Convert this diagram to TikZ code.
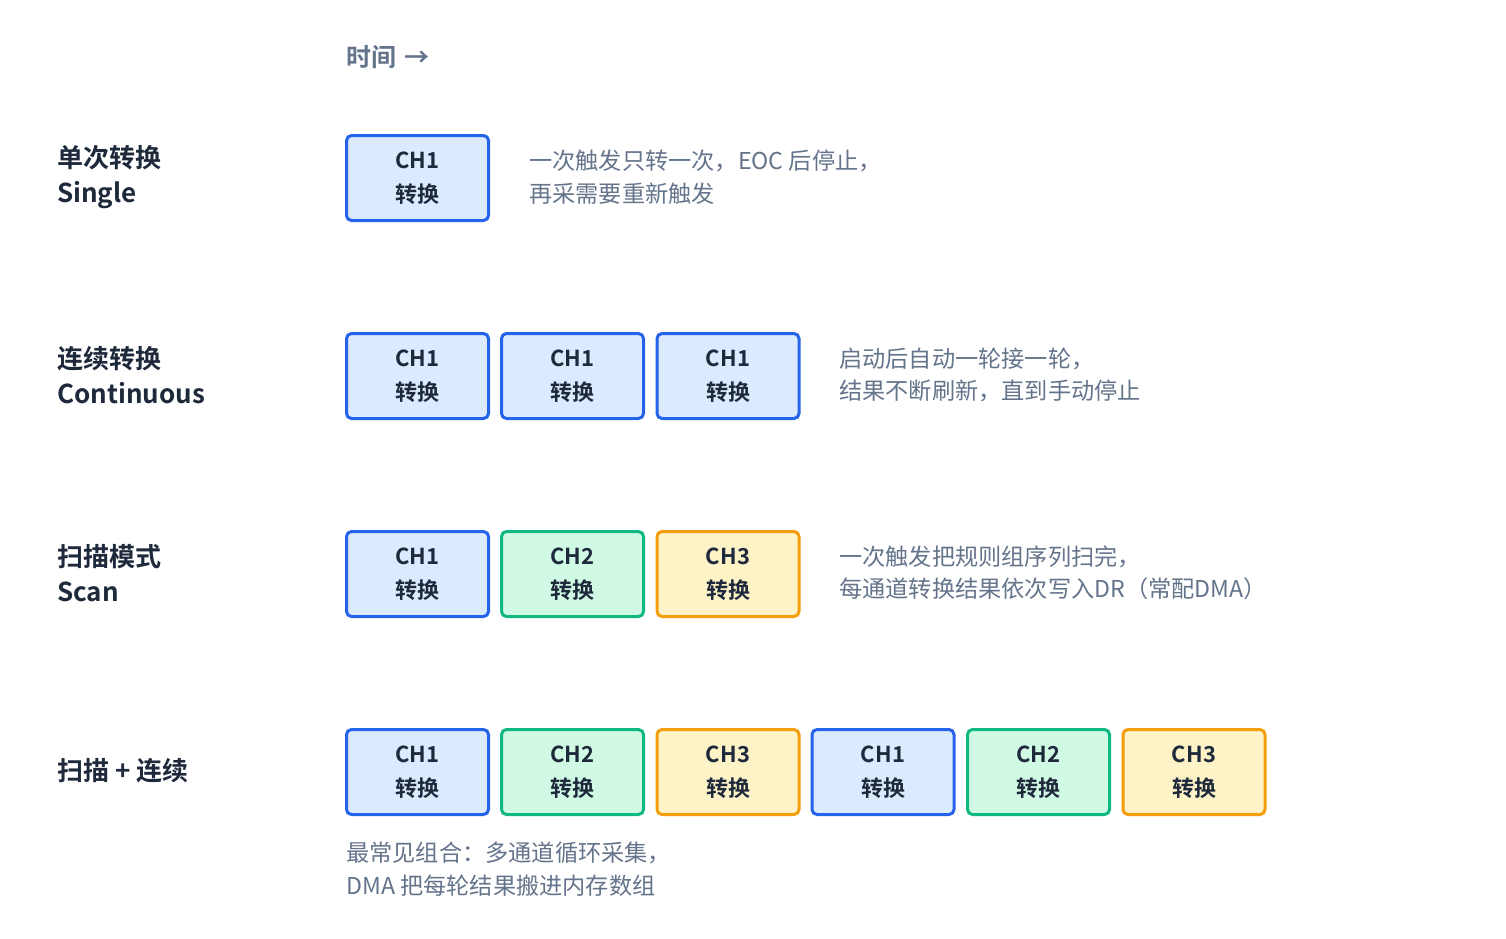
\documentclass[tikz,border=0pt]{standalone}
\usepackage{fontspec}
\setmainfont{Noto Sans CJK SC}[BoldFont={Noto Sans CJK SC Bold}]
\usetikzlibrary{positioning}
\definecolor{ink}{HTML}{1E293B}
\definecolor{muted}{HTML}{64748B}
\definecolor{bluel}{HTML}{2563EB}
\definecolor{bluef}{HTML}{DBEAFE}
\definecolor{greenl}{HTML}{10B981}
\definecolor{greenf}{HTML}{D1FAE5}
\definecolor{orangel}{HTML}{F59E0B}
\definecolor{orangef}{HTML}{FEF3C7}
\tikzset{
  chbox/.style={draw, line width=3pt, rounded corners=5pt, minimum width=142pt, minimum height=85pt,
    align=center, text=ink, font=\fontsize{22}{34}\selectfont\bfseries, inner sep=0pt},
  bbox/.style={chbox, draw=bluel, fill=bluef},
  gbox/.style={chbox, draw=greenl, fill=greenf},
  obox/.style={chbox, draw=orangel, fill=orangef},
  rowlabel/.style={anchor=west, align=left, text=ink, font=\fontsize{26}{35}\selectfont\bfseries, inner sep=0pt},
  desc/.style={anchor=west, align=left, text=muted, font=\fontsize{23.2}{32.5}\selectfont, inner sep=0pt},
}
\begin{document}
\begin{tikzpicture}[x=1pt,y=-1pt]
\useasboundingbox (0,0) rectangle (1506,938);
\fill[white] (0,0) rectangle (1506,938);
\node[anchor=west, text=muted, font=\fontsize{25}{30}\selectfont\bfseries, inner sep=0pt] (time) at (346,57) {时间\,\,→};
% row labels
\node[rowlabel] (l1) at (57,177) {单次转换\\Single};
\node[rowlabel] (l2) at (57,375) {连续转换\\Continuous};
\node[rowlabel] (l3) at (57,573) {扫描模式\\Scan};
\node[rowlabel] (l4) at (57,771) {扫描 + 连续};
% row 1
\node[bbox] (a1) at (417.5,178) {CH1\\转换};
\node[desc] (d1) at (529,177) {一次触发只转一次，EOC 后停止，\\再采需要重新触发};
% row 2
\node[bbox] (b1) at (417.5,376) {CH1\\转换};
\node[bbox] (b2) at (572.5,376) {CH1\\转换};
\node[bbox] (b3) at (728,376) {CH1\\转换};
\node[desc] (d2) at (839,375) {启动后自动一轮接一轮，\\结果不断刷新，直到手动停止};
% row 3
\node[bbox] (c1) at (417.5,574) {CH1\\转换};
\node[gbox] (c2) at (572.5,574) {CH2\\转换};
\node[obox] (c3) at (728,574) {CH3\\转换};
\node[desc] (d3) at (839,573) {一次触发把规则组序列扫完，\\每通道转换结果依次写入DR（常配DMA）};
% row 4
\node[bbox] (e1) at (417.5,772) {CH1\\转换};
\node[gbox] (e2) at (572.5,772) {CH2\\转换};
\node[obox] (e3) at (728,772) {CH3\\转换};
\node[bbox] (e4) at (883,772) {CH1\\转换};
\node[gbox] (e5) at (1038.5,772) {CH2\\转换};
\node[obox] (e6) at (1194,772) {CH3\\转换};
\node[desc] (d4) at (346,869) {最常见组合：多通道循环采集，\\DMA 把每轮结果搬进内存数组};
\end{tikzpicture}
\end{document}
